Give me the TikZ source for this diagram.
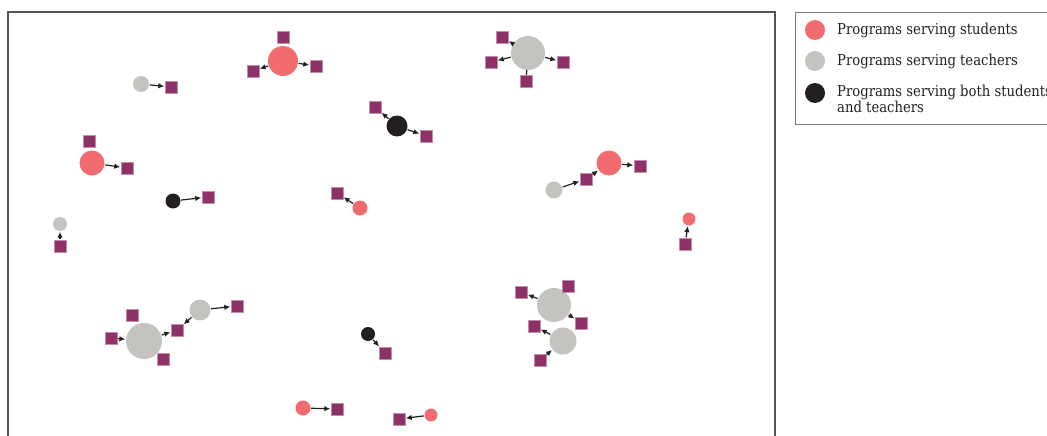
\documentclass[tikz,border=0pt]{standalone}
\usepackage{fontspec}
\newfontfamily\legendfont{DejaVu Serif}[FakeStretch=0.88]
\usetikzlibrary{arrows.meta}

\definecolor{stucol}{HTML}{F26B6F}
\definecolor{teacol}{HTML}{C4C3BF}
\definecolor{bothcol}{HTML}{231F20}
\definecolor{progcol}{HTML}{8E3167}
\definecolor{framecol}{HTML}{555555}

\tikzset{
  stu/.style={circle, fill=stucol, inner sep=0pt, minimum size=#1},
  tea/.style={circle, fill=teacol, inner sep=0pt, minimum size=#1},
  both/.style={circle, fill=bothcol, inner sep=0pt, minimum size=#1},
  prog/.style={rectangle, fill=progcol, draw=progcol!55!white, line width=0.4pt,
    inner sep=0pt, minimum size=12pt},
  link/.style={-{Latex[length=6pt,width=5.5pt]}, line width=1.2pt, bothcol,
    shorten <=0.5pt, shorten >=0.5pt},
  tie/.style={line width=1.2pt, bothcol},
  legtext/.style={anchor=base west, inner sep=0pt, align=left,
    font=\legendfont\fontsize{15}{15.5}\selectfont, text=bothcol},
}

\begin{document}
\begin{tikzpicture}[x=1pt, y=-1pt]
    \useasboundingbox (0,0) rectangle (1047,436);

    % riquadro principale
    \draw[framecol, line width=1.4pt] (8,12) rectangle (775,450);

    % gruppo in alto
    \node[stu=30pt] (s1) at (283,61) {};
    \node[prog] (s1t) at (283,37) {};
    \node[prog] (s1l) at (253,71) {};
    \node[prog] (s1r) at (316,66) {};
    \draw[link] (s1) -- (s1l);
    \draw[link] (s1) -- (s1r);

    \node[tea=16pt] (t1) at (141,84) {};
    \node[prog] (t1r) at (171,87) {};
    \draw[link] (t1) -- (t1r);

    \node[stu=25pt] (s2) at (92,163) {};
    \node[prog] (s2t) at (89,141) {};
    \node[prog] (s2r) at (127,168) {};
    \draw[link] (s2) -- (s2r);

    \node[both=15pt] (b1) at (173,201) {};
    \node[prog] (b1r) at (208,197) {};
    \draw[link] (b1) -- (b1r);

    \node[tea=14pt] (t2) at (60,224) {};
    \node[prog] (t2b) at (60,246) {};
    \draw[link] (t2b) -- (t2);

    \node[stu=15pt] (s3) at (360,208) {};
    \node[prog] (s3l) at (337,193) {};
    \draw[link] (s3) -- (s3l);

    \node[both=21pt] (b2) at (397,126) {};
    \node[prog] (b2l) at (375,107) {};
    \node[prog] (b2r) at (426,136) {};
    \draw[link] (b2) -- (b2l);
    \draw[link] (b2) -- (b2r);

    \node[tea=34pt] (t3) at (528,53) {};
    \node[prog] (t3a) at (502,37) {};
    \node[prog] (t3l) at (491,62) {};
    \node[prog] (t3r) at (563,62) {};
    \node[prog] (t3b) at (526,81) {};
    \draw[link] (t3) -- (t3a);
    \draw[link] (t3) -- (t3l);
    \draw[link] (t3) -- (t3r);
    \draw[tie] (t3) -- (t3b);

    % gruppo a destra
    \node[stu=25pt] (s4) at (609,163) {};
    \node[prog] (s4r) at (640,166) {};
    \node[prog] (s4l) at (586,179) {};
    \node[tea=17pt] (t4) at (554,190) {};
    \draw[link] (t4) -- (s4l);
    \draw[link] (s4l) -- (s4);
    \draw[link] (s4) -- (s4r);

    \node[stu=13pt] (s5) at (689,219) {};
    \node[prog] (s5b) at (685,244) {};
    \draw[link] (s5b) -- (s5);

    % gruppo in basso
    \node[tea=36pt] (t5) at (144,341) {};
    \node[prog] (t5t) at (132,315) {};
    \node[prog] (t5l) at (111,338) {};
    \node[prog] (t5b) at (163,359) {};
    \node[prog] (t5r) at (177,330) {};
    \draw[link] (t5l) -- (t5);
    \draw[link] (t5) -- (t5r);

    \node[tea=21pt] (t6) at (200,310) {};
    \node[prog] (t6r) at (237,306) {};
    \draw[link] (t6) -- (t6r);
    \draw[link] (t6) -- (t5r);

    \node[stu=15pt] (s6) at (303,408) {};
    \node[prog] (s6r) at (337,409) {};
    \draw[link] (s6) -- (s6r);

    \node[both=14pt] (b3) at (368,334) {};
    \node[prog] (b3r) at (385,353) {};
    \draw[link] (b3) -- (b3r);

    \node[stu=13pt] (s7) at (431,415) {};
    \node[prog] (s7l) at (399,419) {};
    \draw[link] (s7) -- (s7l);

    \node[tea=34pt] (t7) at (554,305) {};
    \node[prog] (t7l) at (521,292) {};
    \node[prog] (t7t) at (568,286) {};
    \node[prog] (t7r) at (581,323) {};
    \draw[link] (t7) -- (t7l);
    \draw[link] (t7) -- (t7r);

    \node[tea=27pt] (t8) at (563,341) {};
    \node[prog] (t8l) at (534,326) {};
    \node[prog] (t8b) at (540,360) {};
    \draw[link] (t8) -- (t8l);
    \draw[link] (t8b) -- (t8);

    % legenda
    \draw[framecol!80!white, line width=0.9pt] (795,12) rectangle (1070,124);
    \node[stu=20pt] (ls) at (815,30) {};
    \node[tea=20pt] (lt) at (815,61) {};
    \node[both=20pt] (lb) at (815,93) {};
    \node[legtext] (lst) at (837,35) {Programs serving students};
    \node[legtext] (ltt) at (837,66) {Programs serving teachers};
    \node[legtext] (lbt) at (837,112) {Programs serving both students\\and teachers};
\end{tikzpicture}
\end{document}
